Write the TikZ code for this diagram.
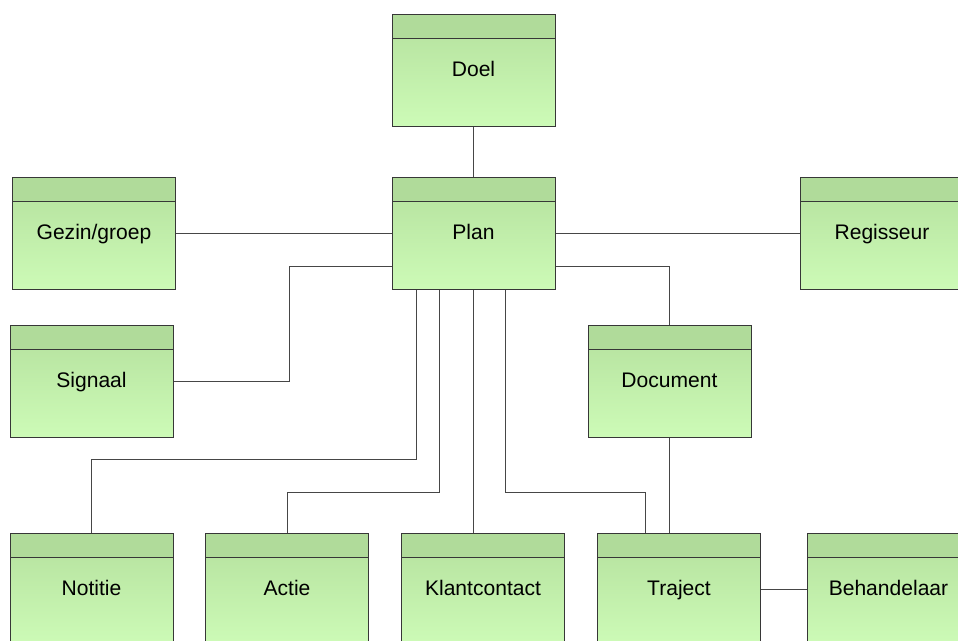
\documentclass[tikz,border=0pt]{standalone}
\usepackage{fontspec}
\setmainfont{Liberation Sans}
\usetikzlibrary{calc}
\definecolor{hdr}{RGB}{176,219,154}
\definecolor{bodytop}{RGB}{180,224,157}
\definecolor{bodybot}{RGB}{205,251,183}
\definecolor{edgecol}{RGB}{55,55,55}
\definecolor{conncol}{RGB}{70,70,70}
\begin{document}
\begin{tikzpicture}[x=0.75pt,y=-0.75pt,
  entity/.style={draw=edgecol, line width=0.75pt, rectangle,
    minimum width=122.25pt, minimum height=84pt, inner sep=0pt,
    text height=12pt, text depth=3pt,
    font=\fontsize{15.8}{18}\selectfont,
    top color=bodytop, bottom color=bodybot,
    path picture={
      \fill[hdr] (path picture bounding box.north west) rectangle ([yshift=-18pt]path picture bounding box.north east);
      \draw[edgecol, line width=0.75pt] ([yshift=-18pt]path picture bounding box.north west) -- ([yshift=-18pt]path picture bounding box.north east);
    }},
  conn/.style={draw=conncol, line width=0.75pt}]
\useasboundingbox (0,0) rectangle (958,641);
\clip (0,0) rectangle (958,641);
\fill[white] (0,0) rectangle (958,641);

\node[entity] (doel) at (473.5,70.5) {Doel};
\node[entity] (plan) at (473.5,234) {Plan};
\node[entity] (gezin) at (94,234) {Gezin/groep};
\node[entity] (regisseur) at (882,234) {Regisseur};
\node[entity] (signaal) at (91.5,381.5) {Signaal};
\node[entity] (document) at (669.5,381.5) {Document};
\node[entity] (notitie) at (91.5,589.5) {Notitie};
\node[entity] (actie) at (287,589.5) {Actie};
\node[entity] (klant) at (483,589.5) {Klantcontact};
\node[entity] (traject) at (679,589.5) {Traject};
\node[entity] (behandelaar) at (888.5,589.5) {Behandelaar};

\coordinate (pw) at ($(plan.south west)+(0,-24)$);
\coordinate (pe) at ($(plan.south east)+(0,-24)$);
\coordinate (pn) at ($(plan.south west)+(24.5,0)$);
\coordinate (pa) at ($(plan.south west)+(48,0)$);
\coordinate (pt) at ($(plan.south west)+(113.5,0)$);
\coordinate (tn) at ($(traject.north west)+(48.5,0)$);

\draw[conn] (doel.south) -- (plan.north);
\draw[conn] (gezin.east) -- (plan.west);
\draw[conn] (plan.east) -- (regisseur.west);
\draw[conn] (signaal.east) -- ++(115.5,0) |- (pw);
\draw[conn] (pe) -| (document.north);
\draw[conn] (pn) -- ++(0,169.5) -| (notitie.north);
\draw[conn] (pa) -- ++(0,202) -| (actie.north);
\draw[conn] (plan.south) -- (plan.south |- klant.north);
\draw[conn] (pt) -- ++(0,202) -| (tn);
\draw[conn] (document.south) -- (document.south |- traject.north);
\draw[conn] (traject.east) -- (behandelaar.west);
\end{tikzpicture}
\end{document}
